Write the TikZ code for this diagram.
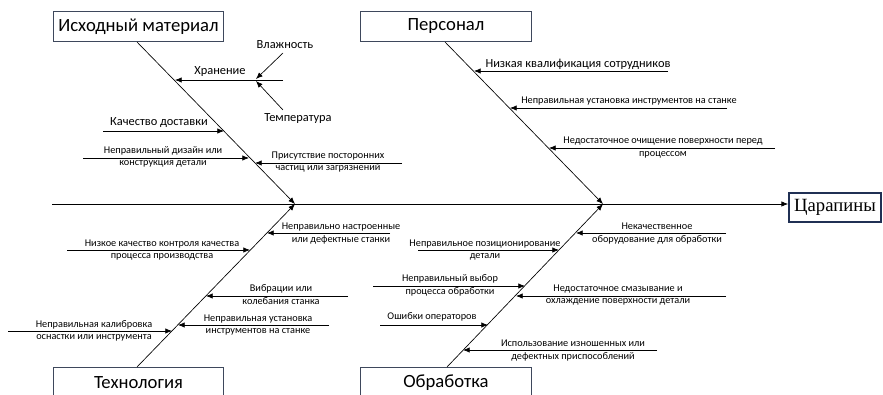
\documentclass[tikz,border=0pt]{standalone}
\usepackage{fontspec}
\setmainfont{Carlito}
\newfontfamily\serifru{Liberation Serif}
\usetikzlibrary{arrows.meta}
\definecolor{boxline}{RGB}{62,72,92}
\definecolor{effline}{RGB}{32,48,84}
\tikzset{
  catbox/.style={draw=boxline, line width=0.6pt, fill=white, minimum width=128pt, minimum height=23pt, inner sep=0pt, font=\fontsize{14}{16}\selectfont},
  effbox/.style={draw=effline, line width=1.3pt, fill=white, minimum width=69pt, minimum height=22pt, inner sep=0pt, font=\serifru\fontsize{14}{16}\selectfont},
  bone/.style={line width=0.5pt, -{Latex[length=5pt,width=4pt]}},
  rib/.style={line width=0.5pt, -{Latex[length=5pt,width=4pt]}},
  big/.style={font=\fontsize{9.3}{11}\selectfont, inner sep=0pt},
  small/.style={font=\fontsize{7.7}{9.5}\selectfont, align=center, inner sep=0pt}
}
\begin{document}
\begin{tikzpicture}[x=0.75pt,y=-0.75pt]
\useasboundingbox (0,0) rectangle (883,395);

% boxes
\node[catbox] (mat) at (138.5,26.5) {Исходный материал};
\node[catbox] (pers) at (446,26.5) {Персонал};
\node[catbox] (tech) at (138.5,383) {Технология};
\node[catbox] (obr) at (446,383) {Обработка};
\node[effbox] (eff) at (835,207.5) {Царапины};

% spine
\coordinate (s0) at (52,204);
\coordinate (s1) at (eff.west |- s0);
\coordinate (j1) at (295,204);
\coordinate (j2) at (603,204);
\draw[rib] (s0) -- (s1);

% bones
\coordinate (b1) at (137,42);
\coordinate (b2) at (445,42);
\coordinate (b3) at (137,367);
\coordinate (b4) at (447,367);
\draw[bone] (b1) -- (j1);
\draw[bone] (b2) -- (j2);
\draw[bone] (b3) -- (j1);
\draw[bone] (b4) -- (j2);

% Исходный материал
\coordinate (hr0) at (283,80);   \coordinate (hr1) at (175,80);
\coordinate (vl0) at (283,53);   \coordinate (vl1) at (256,79);
\coordinate (tm0) at (283,110);  \coordinate (tm1) at (256,81);
\coordinate (kd0) at (103,131);  \coordinate (kd1) at (224,131);
\coordinate (nd0) at (83,158);   \coordinate (nd1) at (249,158);
\coordinate (pc0) at (402,163);  \coordinate (pc1) at (255,163);
\draw[rib] (hr0) -- (hr1);
\draw[rib] (vl0) -- (vl1);
\draw[rib] (tm0) -- (tm1);
\draw[rib] (kd0) -- (kd1);
\draw[rib] (nd0) -- (nd1);
\draw[rib] (pc0) -- (pc1);
\node[big] (hr) at (220,72) {Хранение};
\node[big] (vl) at (285,45) {Влажность};
\node[big] (tm) at (298,119) {Температура};
\node[big] (kd) at (159,123) {Качество доставки};
\node[small] (nd) at (163,157) {Неправильный дизайн или\\конструкция детали};
\node[small] (pc) at (328,162) {Присутствие посторонних\\частиц или загрязнений};

% Персонал
\coordinate (nk0) at (668,71);   \coordinate (nk1) at (474,71);
\coordinate (nu0) at (727,108);  \coordinate (nu1) at (510,108);
\coordinate (no0) at (775,148);  \coordinate (no1) at (549,148);
\draw[rib] (nk0) -- (nk1);
\draw[rib] (nu0) -- (nu1);
\draw[rib] (no0) -- (no1);
\node[big] (nk) at (578,64) {Низкая квалификация сотрудников};
\node[small] (nu) at (629,101) {Неправильная установка инструментов на станке};
\node[small] (no) at (663,147.5) {Недостаточное очищение поверхности перед\\процессом};

% Технология
\coordinate (ns0) at (390,233);  \coordinate (ns1) at (267,233);
\coordinate (nq0) at (67,250);   \coordinate (nq1) at (250,250);
\coordinate (vk0) at (348,296);  \coordinate (vk1) at (206,296);
\coordinate (ui0) at (329,325);  \coordinate (ui1) at (178,325);
\coordinate (kl0) at (8,331);    \coordinate (kl1) at (172,331);
\draw[rib] (ns0) -- (ns1);
\draw[rib] (nq0) -- (nq1);
\draw[rib] (vk0) -- (vk1);
\draw[rib] (ui0) -- (ui1);
\draw[rib] (kl0) -- (kl1);
\node[small] (ns) at (341,233.5) {Неправильно настроенные\\или дефектные станки};
\node[small] (nq) at (162,250) {Низкое качество контроля качества\\процесса производства};
\node[small] (vk) at (281,294.5) {Вибрации или\\колебания станка};
\node[small] (ui) at (258,325) {Неправильная установка\\инструментов на станке};
\node[small] (kl) at (94,331) {Неправильная калибровка\\оснастки или инструмента};

% Обработка
\coordinate (ko0) at (726,233);  \coordinate (ko1) at (576,233);
\coordinate (pp0) at (418,250);  \coordinate (pp1) at (559,250);
\coordinate (vb0) at (373,286);  \coordinate (vb1) at (525,286);
\coordinate (sm0) at (726,296);  \coordinate (sm1) at (516,296);
\coordinate (oo0) at (380,325);  \coordinate (oo1) at (488,325);
\coordinate (ip0) at (657,350);  \coordinate (ip1) at (463,350);
\draw[rib] (ko0) -- (ko1);
\draw[rib] (pp0) -- (pp1);
\draw[rib] (vb0) -- (vb1);
\draw[rib] (sm0) -- (sm1);
\draw[rib] (oo0) -- (oo1);
\draw[rib] (ip0) -- (ip1);
\node[small] (ko) at (657,233.5) {Некачественное\\оборудование для обработки};
\node[small] (pp) at (485,250) {Неправильное позиционирование\\детали};
\node[small] (vb) at (450,285.5) {Неправильный выбор\\процесса обработки};
\node[small] (sm) at (618,295) {Недостаточное смазывание и\\охлаждение поверхности детали};
\node[small] (oo) at (432,317) {Ошибки операторов};
\node[small] (ip) at (573,350.5) {Использование изношенных или\\дефектных приспособлений};
\end{tikzpicture}
\end{document}
